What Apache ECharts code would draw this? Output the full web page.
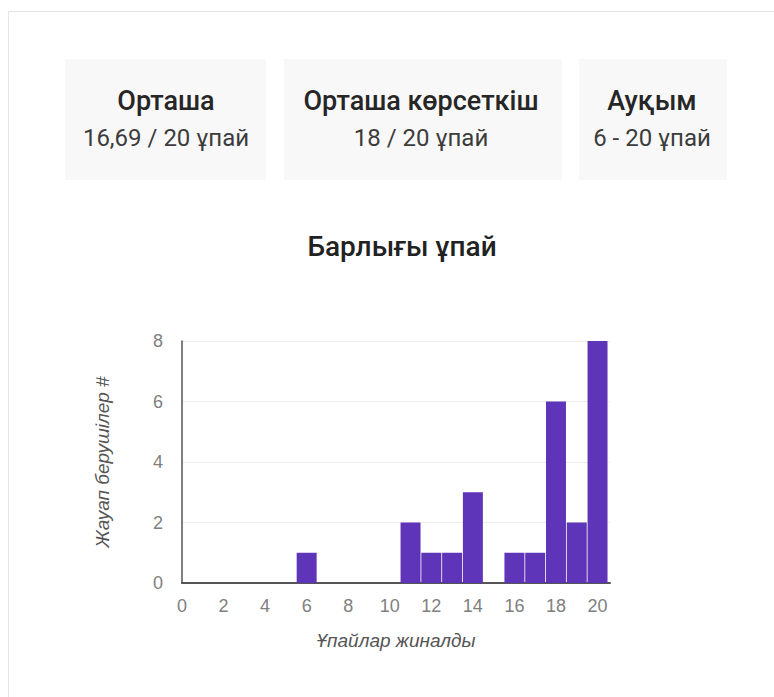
<!DOCTYPE html>
<html>
<head>
<meta charset="utf-8">
<script src="https://cdn.jsdelivr.net/npm/echarts@6/dist/echarts.min.js"></script>
<style>
html,body{margin:0;padding:0;background:#fff;}
#c{width:774px;height:697px;}
</style>
</head>
<body>
<div id="c"></div>
<script>
// Data
const scores = [6, 11, 12, 13, 14, 16, 17, 18, 19, 20];
const respondents = [1, 2, 1, 1, 3, 1, 1, 6, 2, 8];
const statTitles = ['Орташа', 'Орташа көрсеткіш', 'Ауқым'];
const statValues = ['16,69 / 20 ұпай', '18 / 20 ұпай', '6 - 20 ұпай'];
const chartTitle = 'Барлығы ұпай';
const xName = 'Ұпайлар жиналды';
const yName = 'Жауап берушілер #';

const FONT = 'Roboto, "Noto Sans", sans-serif';
const AFONT = '"Liberation Sans", Arial, sans-serif';
const boxes = [
  {x: 65, w: 201, cx: 166},
  {x: 284, w: 278, cx: 421},
  {x: 579, w: 148, cx: 652}
];

const graphics = [
  {type: 'rect', shape: {x: 8.5, y: 11.5, width: 800, height: 700}, style: {fill: '#fff', stroke: '#e4e4e4', lineWidth: 1}, z: -10}
];
boxes.forEach((b, i) => {
  graphics.push({type: 'rect', shape: {x: b.x, y: 59, width: b.w, height: 121}, style: {fill: '#f8f8f8'}, z: -5});
  graphics.push({type: 'text', x: b.cx, y: 101, style: {text: statTitles[i], font: '500 27px ' + FONT, fill: '#262626', align: 'center', verticalAlign: 'middle'}});
  graphics.push({type: 'text', x: b.cx, y: 138, style: {text: statValues[i], font: '400 24px ' + FONT, fill: '#3c3c3c', align: 'center', verticalAlign: 'middle'}});
});

const chart = echarts.init(document.getElementById('c'), null, {renderer: 'svg'});
chart.setOption({
  animation: false,
  title: {
    text: chartTitle, left: 397, top: 227, textAlign: 'center',
    textStyle: {fontFamily: FONT, fontSize: 28, fontWeight: 500, color: '#222'}
  },
  graphic: graphics,
  grid: {left: 182, right: 164, top: 341, bottom: 114},
  xAxis: {
    type: 'value', min: 0, max: 20.6, interval: 2,
    name: xName, nameLocation: 'middle', nameGap: 48,
    nameTextStyle: {fontFamily: AFONT, fontSize: 19, fontStyle: 'italic', color: '#555'},
    axisLine: {show: true, lineStyle: {color: '#555', width: 2}},
    axisTick: {show: false},
    splitLine: {show: false},
    axisLabel: {showMaxLabel: false, margin: 14, fontFamily: AFONT, fontSize: 18, color: '#808080'}
  },
  yAxis: {
    type: 'value', min: 0, max: 8, interval: 2,
    name: yName, nameLocation: 'middle', nameGap: 70, nameRotate: 90,
    nameTextStyle: {fontFamily: AFONT, fontSize: 19, fontStyle: 'italic', color: '#555'},
    axisLine: {show: true, lineStyle: {color: '#555', width: 1.5}},
    axisTick: {show: false},
    splitLine: {show: true, lineStyle: {color: '#eeeeee'}},
    axisLabel: {margin: 19, fontFamily: AFONT, fontSize: 18, color: '#808080'}
  },
  series: [{
    type: 'custom',
    data: scores.map((s, i) => [s, respondents[i]]),
    renderItem: function (params, api) {
      const x = api.value(0), y = api.value(1);
      const left = api.coord([x - 0.5, y]);
      const right = api.coord([x + 0.5, 0]);
      return {
        type: 'rect',
        shape: {x: left[0] + 0.4, y: left[1], width: right[0] - left[0] - 0.8, height: right[1] - left[1]},
        style: {fill: '#5e35b8'}
      };
    },
    z: 1
  }]
});
</script>
</body>
</html>
